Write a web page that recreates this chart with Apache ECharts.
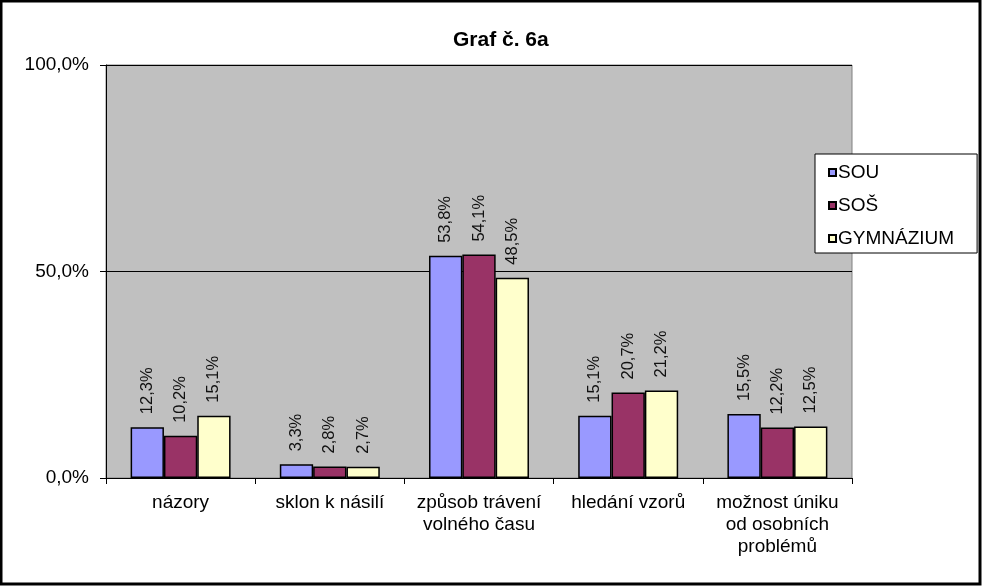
<!DOCTYPE html>
<html><head><meta charset="utf-8">
<script src="https://cdn.jsdelivr.net/npm/echarts@6/dist/echarts.min.js"></script>
<style>html,body{margin:0;padding:0;background:#fff}#c{width:982px;height:586px}</style>
</head><body><div id="c"></div>
<script>
const categories = ['názory', 'sklon k násilí', 'způsob trávení\nvolného času', 'hledání vzorů', 'možnost úniku\nod osobních\nproblémů'];
const seriesNames = ['SOU', 'SOŠ', 'GYMNÁZIUM'];
const sou = [12.3, 3.3, 53.8, 15.1, 15.5];
const sos = [10.2, 2.8, 54.1, 20.7, 12.2];
const gym = [15.1, 2.7, 48.5, 21.2, 12.5];
const colors = ['#9999FF', '#993366', '#FFFFCC'];
const values = [sou, sos, gym];
const fmt = v => v.toFixed(1).replace('.', ',');
const font = 'Arial, "Liberation Sans", sans-serif';
const chart = echarts.init(document.getElementById('c'));
chart.setOption({
  animation: false,
  backgroundColor: '#fff',
  textStyle: {fontFamily: font},
  title: {text: 'Graf č. 6a', left: 448, top: 25, textStyle: {fontFamily: font, fontSize: 21, fontWeight: 'bold', color: '#000'}},
  graphic: [{type: 'rect', shape: {x: 1, y: 1, width: 979, height: 583}, style: {fill: 'none', stroke: '#000', lineWidth: 3}, silent: true}],
  legend: {
    orient: 'vertical', left: 815, top: 154,
    data: seriesNames,
    backgroundColor: '#fff', borderColor: '#000', borderWidth: 1,
    padding: [9, 23, 5, 13], itemGap: 14, itemWidth: 7, itemHeight: 7,
    textStyle: {fontFamily: font, fontSize: 19, color: '#000', padding: [0, 0, 0, -3]},
    icon: 'rect'
  },
  grid: {left: 106, top: 65, width: 746, height: 413, show: true, backgroundColor: '#c0c0c0', borderColor: '#808080', borderWidth: 1},
  xAxis: {
    type: 'category', data: categories,
    axisLine: {lineStyle: {color: '#000', width: 1}},
    axisTick: {show: true, length: 6, lineStyle: {color: '#000'}},
    axisLabel: {color: '#000', fontSize: 19, margin: 14, lineHeight: 22, fontFamily: font, interval: 0}
  },
  yAxis: {
    type: 'value', min: 0, max: 100, interval: 50,
    axisLine: {show: true, lineStyle: {color: '#000'}},
    axisTick: {show: true, length: 6, lineStyle: {color: '#000'}},
    splitLine: {show: true, lineStyle: {color: '#000', width: 1}},
    axisLabel: {color: '#000', fontSize: 19, margin: 17, fontFamily: font, formatter: v => fmt(v) + '%'}
  },
  series: seriesNames.map((n, i) => ({
    name: n, type: 'bar', data: values[i],
    barGap: '0%', barCategoryGap: '33%',
    itemStyle: {color: colors[i], borderColor: '#000', borderWidth: 1.5},
    label: {show: true, position: 'top', rotate: 90, align: 'left', verticalAlign: 'middle', distance: 13,
      fontSize: 16.5, color: '#111', fontFamily: font,
      formatter: p => fmt(p.value) + '%'}
  }))
});
</script></body></html>
